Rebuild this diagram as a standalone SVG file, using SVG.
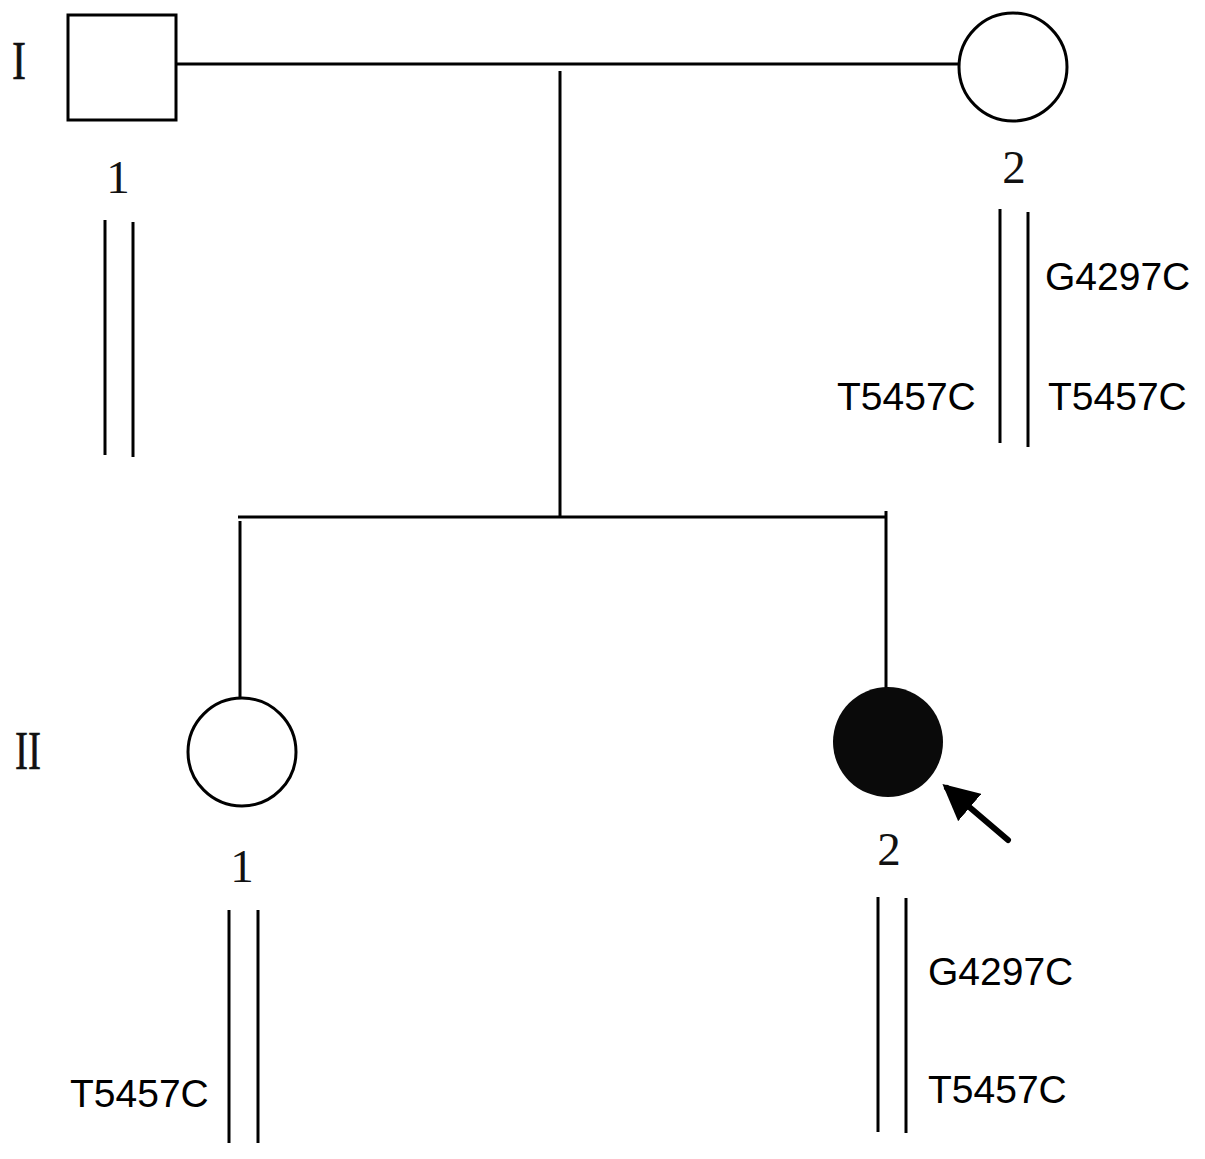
<svg xmlns="http://www.w3.org/2000/svg" width="1205" height="1159" viewBox="0 0 1205 1159">
<style>
.ln{stroke:#000;stroke-width:3;fill:none}
.chr{stroke:#000;stroke-width:3}
.sym{stroke:#000;stroke-width:3;fill:#fff}
.gen{font-family:"Liberation Serif",serif;font-size:54px;fill:#111;stroke:#111;stroke-width:0.6}
.num{font-family:"Liberation Serif",serif;font-size:47px;fill:#111;text-anchor:middle}
.mut{font-family:"Liberation Sans",Arial,sans-serif;font-size:39px;fill:#000}
</style>
<defs>
<marker id="ah" markerWidth="6" markerHeight="6" refX="5" refY="3" orient="auto" markerUnits="strokeWidth">
<path d="M0,0 L6,3 L0,6 Z" fill="#000"/>
</marker>
</defs>
<rect width="1205" height="1159" fill="#fff"/>
<text class="gen" x="12" y="79" textLength="14" lengthAdjust="spacingAndGlyphs">I</text>
<text class="gen" x="15" y="769" textLength="26" lengthAdjust="spacingAndGlyphs">II</text>
<g id="connectors">
<line class="ln" x1="176" y1="64" x2="958" y2="64"/>
<line class="ln" x1="560" y1="71" x2="560" y2="518"/>
<line class="ln" x1="238" y1="517" x2="887" y2="517"/>
<line class="ln" x1="240" y1="521" x2="240" y2="697"/>
<line class="ln" x1="886" y1="511" x2="886" y2="688"/>
</g>
<g id="I-1">
<rect class="sym" x="68" y="15" width="108" height="105"/>
<text class="num" x="118" y="193">1</text>
<line class="chr" x1="105" y1="220" x2="105" y2="455"/>
<line class="chr" x1="133" y1="222" x2="133" y2="457"/>
</g>
<g id="I-2">
<circle class="sym" cx="1013" cy="67" r="54"/>
<text class="num" x="1014" y="183">2</text>
<line class="chr" x1="1000" y1="209" x2="1000" y2="443"/>
<line class="chr" x1="1028" y1="212" x2="1028" y2="447"/>
<text class="mut" x="1045" y="290">G4297C</text>
<text class="mut" x="837" y="410">T5457C</text>
<text class="mut" x="1048" y="410">T5457C</text>
</g>
<g id="II-1">
<circle class="sym" cx="242" cy="752" r="54"/>
<text class="num" x="242" y="882">1</text>
<line class="chr" x1="229" y1="910" x2="229" y2="1143"/>
<line class="chr" x1="258" y1="910" x2="258" y2="1143"/>
<text class="mut" x="70" y="1107">T5457C</text>
</g>
<g id="II-2">
<circle cx="888" cy="742" r="55" fill="#0a0a0a"/>
<text class="num" x="889" y="865">2</text>
<line class="chr" x1="878" y1="897" x2="878" y2="1132"/>
<line class="chr" x1="906" y1="898" x2="906" y2="1133"/>
<text class="mut" x="928" y="985">G4297C</text>
<text class="mut" x="928" y="1103">T5457C</text>
<line x1="1008" y1="840" x2="947" y2="788" stroke="#000" stroke-width="6" stroke-linecap="round" marker-end="url(#ah)"/>
</g>
</svg>
